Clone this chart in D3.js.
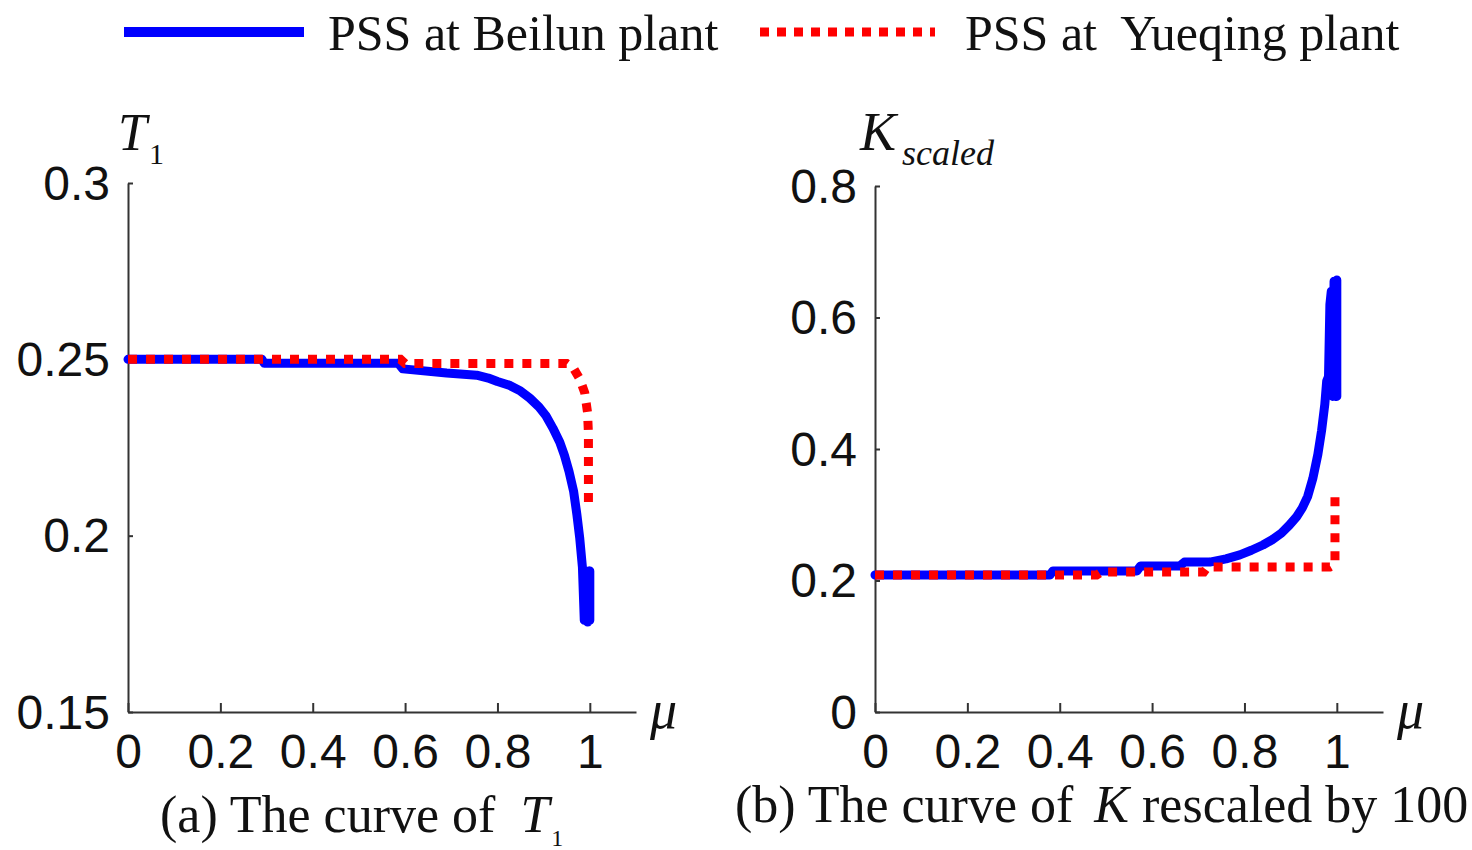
<!DOCTYPE html>
<html>
<head>
<meta charset="utf-8">
<script src="https://cdn.jsdelivr.net/npm/d3@7"></script>
<style>
  body { margin: 0; background: #fff; }
  svg { display: block; }
  .tick text { font-family: "Liberation Sans", Arial, sans-serif; font-size: 48px; fill: #111; }
  .serif { font-family: "Liberation Serif", "Times New Roman", serif; fill: #111; }
</style>
</head>
<body>
<svg id="chart" width="1472" height="850"></svg>
<script>
// series names
var seriesNames = ["PSS at Beilun plant", "PSS at  Yueqing plant"];

// panel (a): T1 against mu
var muT_Beilun = [0, 0.29, 0.295, 0.585, 0.595, 0.69, 0.755, 0.78, 0.8, 0.825, 0.85, 0.87, 0.89, 0.905, 0.92, 0.935, 0.945, 0.955, 0.965, 0.972, 0.978, 0.984, 0.988, 0.992, 0.995, 0.998, 1.0, 1.0];
var T_Beilun   = [0.25, 0.25, 0.2489, 0.2489, 0.2473, 0.2461, 0.2455, 0.2447, 0.2437, 0.2427, 0.2410, 0.2390, 0.2365, 0.2340, 0.2305, 0.2265, 0.2228, 0.2182, 0.2125, 0.2060, 0.1995, 0.1910, 0.1760, 0.1900, 0.1755, 0.1900, 0.1760, 0.1900];
var muT_Yueqing = [0, 0.59, 0.6, 0.95, 0.965, 0.978, 0.989, 0.995, 0.997, 0.997];
var T_Yueqing   = [0.25, 0.25, 0.2488, 0.2488, 0.2474, 0.2445, 0.2405, 0.2350, 0.2290, 0.2085];

// panel (b): K (rescaled by 100) against mu
var muK_Beilun = [0, 0.379, 0.385, 0.567, 0.575, 0.66, 0.67, 0.725, 0.76, 0.79, 0.815, 0.84, 0.86, 0.88, 0.897, 0.913, 0.925, 0.937, 0.948, 0.959, 0.967, 0.974, 0.978, 0.982, 0.985, 0.988, 0.991, 0.994, 0.997, 1.0, 1.0];
var K_Beilun   = [0.2084, 0.2084, 0.2145, 0.2145, 0.222, 0.222, 0.228, 0.228, 0.233, 0.239, 0.246, 0.254, 0.262, 0.272, 0.284, 0.297, 0.310, 0.328, 0.355, 0.392, 0.428, 0.468, 0.503, 0.510, 0.620, 0.640, 0.480, 0.655, 0.480, 0.657, 0.480];
var muK_Yueqing = [0, 0.48, 0.49, 0.712, 0.72, 0.985, 0.996, 0.996];
var K_Yueqing   = [0.2084, 0.2084, 0.213, 0.213, 0.2205, 0.2205, 0.225, 0.334];

var xTicks = [0, 0.2, 0.4, 0.6, 0.8, 1];
var xTickLabels = ["0", "0.2", "0.4", "0.6", "0.8", "1"];
var yTicksA = [0.15, 0.2, 0.25, 0.3];
var yTickLabelsA = ["0.15", "0.2", "0.25", "0.3"];
var yTicksB = [0, 0.2, 0.4, 0.6, 0.8];
var yTickLabelsB = ["0", "0.2", "0.4", "0.6", "0.8"];

var blue = "#0000ff", red = "#ff0000";

var svg = d3.select("#chart");

function zip(xs, ys) {
    return xs.map(function (d, i) { return [d, ys[i]]; });
}

function panel(opt) {
    var x = d3.scaleLinear().domain([0, 1.1]).range([opt.left, opt.left + 508]);
    var y = d3.scaleLinear().domain(opt.yDomain).range([712, opt.top]);

    var g = svg.append("g");

    var xAxis = d3.axisBottom(x)
        .tickValues(xTicks)
        .tickFormat(function (d, i) { return xTickLabels[i]; })
        .tickSize(-9)
        .tickSizeOuter(0)
        .tickPadding(22);
    var yAxis = d3.axisLeft(y)
        .tickValues(opt.yTicks)
        .tickFormat(function (d, i) { return opt.yLabels[i]; })
        .tickSize(-5)
        .tickSizeOuter(0)
        .tickPadding(18);

    var xg = g.append("g").attr("transform", "translate(0,712)").call(xAxis);
    var yg = g.append("g").attr("transform", "translate(" + opt.left + ",0)").call(yAxis);
    [xg, yg].forEach(function (a) {
        a.select(".domain").attr("stroke", "#333").attr("stroke-width", 2);
        a.selectAll(".tick line").attr("stroke", "#333").attr("stroke-width", 2);
    });
    yg.selectAll(".tick text").attr("dy", "0.34em");

    var line = d3.line()
        .x(function (d) { return x(d[0]); })
        .y(function (d) { return y(d[1]); });

    g.append("path")
        .datum(zip(opt.muB, opt.vB))
        .attr("d", line)
        .attr("fill", "none")
        .attr("stroke", blue)
        .attr("stroke-width", 9)
        .attr("stroke-linejoin", "round")
        .attr("stroke-linecap", "round");

    g.append("path")
        .datum(zip(opt.muY, opt.vY))
        .attr("d", line)
        .attr("fill", "none")
        .attr("stroke", red)
        .attr("stroke-width", 9)
        .attr("stroke-dasharray", "9,9");

    // mu label at the end of the x axis
    g.append("text")
        .attr("class", "serif")
        .attr("x", opt.left + 522)
        .attr("y", 728)
        .attr("font-size", 54)
        .attr("font-style", "italic")
        .text("\u03bc");

    return g;
}

panel({
    left: 128, top: 183, yDomain: [0.15, 0.3],
    yTicks: yTicksA, yLabels: yTickLabelsA,
    muB: muT_Beilun, vB: T_Beilun, muY: muT_Yueqing, vY: T_Yueqing
});
panel({
    left: 875, top: 186, yDomain: [0, 0.8],
    yTicks: yTicksB, yLabels: yTickLabelsB,
    muB: muK_Beilun, vB: K_Beilun, muY: muK_Yueqing, vY: K_Yueqing
});

// y axis titles
var t1 = svg.append("text").attr("class", "serif").attr("x", 118).attr("y", 150);
t1.append("tspan").attr("font-size", 52).attr("font-style", "italic").text("T");
t1.append("tspan").attr("font-size", 30).attr("dx", 2).attr("dy", 14).text("1");

var ks = svg.append("text").attr("class", "serif").attr("x", 860).attr("y", 150);
ks.append("tspan").attr("font-size", 54).attr("font-style", "italic").text("K");
ks.append("tspan").attr("font-size", 36).attr("font-style", "italic").attr("dx", 6).attr("dy", 15).text("scaled");

// captions
var ca = svg.append("text").attr("class", "serif").attr("x", 160).attr("y", 832).attr("font-size", 52);
ca.append("tspan").text("(a) The curve of ");
ca.append("tspan").attr("dx", 12).attr("font-style", "italic").text("T");
ca.append("tspan").attr("font-size", 24).attr("dx", 2).attr("dy", 14).text("1");

var cb = svg.append("text").attr("class", "serif").attr("x", 735).attr("y", 822).attr("font-size", 52);
cb.append("tspan").text("(b) The curve of ");
cb.append("tspan").attr("dx", 8).attr("font-style", "italic").text("K");
cb.append("tspan").text(" rescaled by 100");

// legend
var legend = svg.append("g");
legend.append("line")
    .attr("x1", 124).attr("x2", 304).attr("y1", 32).attr("y2", 32)
    .attr("stroke", blue).attr("stroke-width", 10);
legend.append("text").attr("class", "serif")
    .attr("x", 328).attr("y", 50).attr("font-size", 50)
    .text(seriesNames[0]);
legend.append("line")
    .attr("x1", 760).attr("x2", 935).attr("y1", 32).attr("y2", 32)
    .attr("stroke", red).attr("stroke-width", 9)
    .attr("stroke-dasharray", "9,8");
legend.append("text").attr("class", "serif")
    .attr("x", 965).attr("y", 50).attr("font-size", 50)
    .style("white-space", "pre")
    .text(seriesNames[1]);
</script>
</body>
</html>
